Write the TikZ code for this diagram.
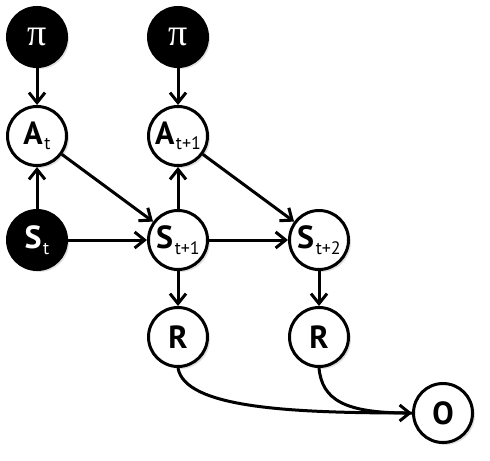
\documentclass[tikz,border=0pt]{standalone}
\usepackage{fontspec}
\setsansfont{PT Sans}
\newfontfamily\pifont{Liberation Serif}
\usetikzlibrary{arrows.meta,shadows}
\newcommand\sbs[1]{\kern0.8pt\raisebox{-0.35ex}{\fontsize{9}{9}\mdseries\selectfont #1}}
\begin{document}
\begin{tikzpicture}[x=0.5pt,y=-0.5pt,
  nd/.style={circle,draw=black,line width=1.5pt,minimum size=29.5pt,inner sep=0pt,
    fill=white,font=\sffamily\bfseries\fontsize{16}{16}\selectfont,
    drop shadow={opacity=0.25,shadow xshift=1.2pt,shadow yshift=-1.2pt}},
  obs/.style={nd,fill=black,text=white},
  arr/.style={line width=1.5pt,-{Straight Barb[length=5pt,width=8pt]}}]
\useasboundingbox (0,0) rectangle (490,460);
\node[obs] (pi1) at (37,37) {\pifont\mdseries\fontsize{19}{19}\selectfont π};
\node[obs] (pi2) at (178,37) {\pifont\mdseries\fontsize{19}{19}\selectfont π};
\node[nd] (At) at (37,136) {A\sbs{t}};
\node[nd] (At1) at (178,136) {A\sbs{t+1}};
\node[obs] (St) at (37,240) {S\sbs{t}};
\node[nd] (St1) at (178,240) {S\sbs{t+1}};
\node[nd] (St2) at (319,240) {S\sbs{t+2}};
\node[nd] (R1) at (178,337) {R};
\node[nd] (R2) at (319,337) {R};
\node[nd] (O) at (443,413) {O};
\draw[arr] (pi1) -- (At);
\draw[arr] (pi2) -- (At1);
\draw[arr] (St) -- (At);
\draw[arr] (St1) -- (At1);
\draw[arr] (St) -- (St1);
\draw[arr] (St1) -- (St2);
\draw[arr] (At) -- (St1);
\draw[arr] (At1) -- (St2);
\draw[arr] (St1) -- (R1);
\draw[arr] (St2) -- (R2);
\draw[line width=1.5pt] (R1.south) .. controls (185,408) and (290,413) .. (O.west);
\draw[arr] (R2.south) .. controls (322,400) and (345,413) .. (O.west);
\end{tikzpicture}
\end{document}
